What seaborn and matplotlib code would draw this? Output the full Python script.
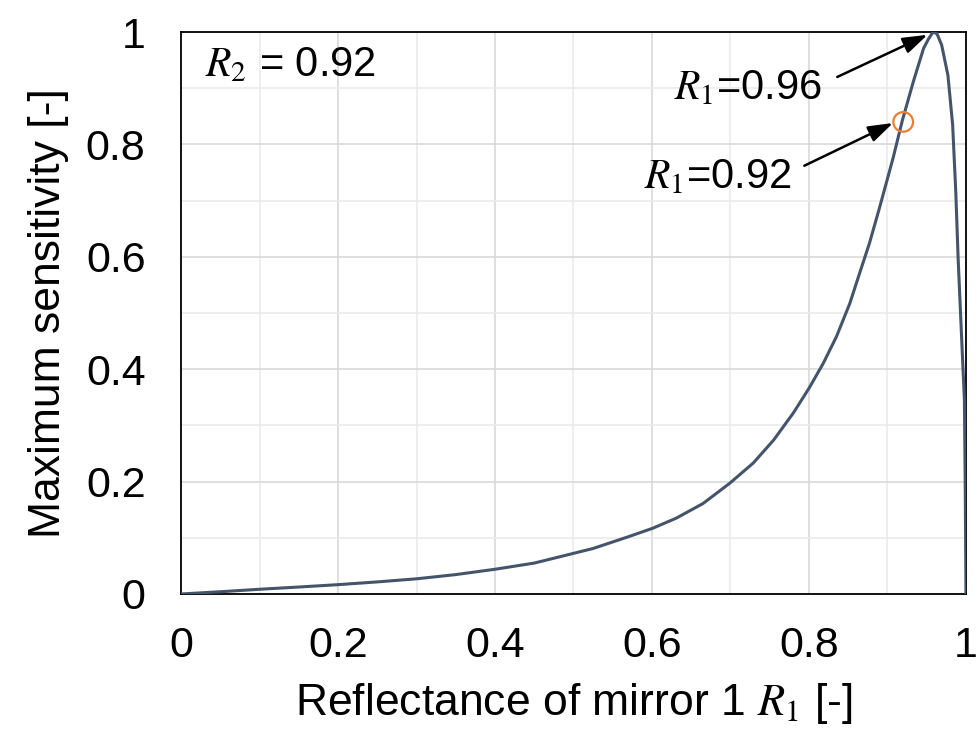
import numpy as np
import pandas as pd
import matplotlib
matplotlib.use("Agg")
import matplotlib.pyplot as plt
import seaborn as sns
from matplotlib.ticker import MultipleLocator

# ---- data ----
r1 = [0.0, 0.05, 0.1, 0.15, 0.2, 0.25, 0.3, 0.35, 0.4, 0.45, 0.483, 0.525,
      0.568, 0.601, 0.631, 0.665, 0.699, 0.729, 0.755, 0.780, 0.800, 0.818,
      0.835, 0.852, 0.865, 0.877, 0.890, 0.907, 0.919, 0.933, 0.946, 0.952,
      0.958, 0.963, 0.969, 0.977, 0.983, 0.987, 0.990, 0.994, 0.998, 0.999,
      1.0]
sensitivity = [0.0, 0.004, 0.0084, 0.0124, 0.0166, 0.0215, 0.027, 0.0345,
               0.044, 0.055, 0.0664, 0.081, 0.101, 0.117, 0.135, 0.161, 0.197,
               0.233, 0.274, 0.322, 0.366, 0.410, 0.458, 0.517, 0.573, 0.624,
               0.688, 0.775, 0.843, 0.912, 0.971, 0.987, 1.0, 0.997, 0.977,
               0.923, 0.835, 0.716, 0.597, 0.470, 0.345, 0.20, 0.0]
marker_r1 = [0.92]
marker_sens = [0.84]
ticks = [0, 0.2, 0.4, 0.6, 0.8, 1.0]
tick_labels = ["0", "0.2", "0.4", "0.6", "0.8", "1"]
r2_label = r"$R_2$ = 0.92"
peak_label = r"$R_1$=0.96"
point_label = r"$R_1$=0.92"

sns.set_theme(style="white")
plt.rcParams['font.family'] = ['Liberation Sans', 'DejaVu Sans']
plt.rcParams['mathtext.fontset'] = 'stix'

fig = plt.figure(figsize=(9.79, 7.29), dpi=100)
ax = fig.add_axes([0.1849, 0.1852, 0.8018, 0.7709])

df = pd.DataFrame({"R1": r1, "S": sensitivity})
sns.lineplot(data=df, x="R1", y="S", ax=ax, color="#44546A", linewidth=2.2,
             estimator=None, sort=False, zorder=3)

sns.scatterplot(x=marker_r1, y=marker_sens, ax=ax, s=200, marker="o",
                linewidth=1.6, zorder=4)
coll = ax.collections[-1]
coll.set_facecolor("none")
coll.set_edgecolor("#ED7D31")

ax.set_xlim(0, 1)
ax.set_ylim(0, 1)
ax.set_xticks(ticks)
ax.set_xticklabels(tick_labels)
ax.set_yticks(ticks)
ax.set_yticklabels(tick_labels)
ax.xaxis.set_minor_locator(MultipleLocator(0.1))
ax.yaxis.set_minor_locator(MultipleLocator(0.1))

ax.set_axisbelow(True)
ax.grid(which="major", color="#d9d9d9", linewidth=1.2)
ax.grid(which="minor", color="#ebebeb", linewidth=1.2)

for sp in ax.spines.values():
    sp.set_visible(True)
    sp.set_color("black")
    sp.set_linewidth(1.3)

ax.tick_params(which="major", direction="in", length=9.5, width=1.2,
               color="black", labelsize=31, labelcolor="black")
ax.tick_params(axis="x", which="major", pad=23)
ax.tick_params(axis="y", which="major", pad=25.5)
ax.tick_params(which="minor", direction="in", length=6.5, width=1.2,
               color="black")

ax.set_xlabel(r"Reflectance of mirror 1 $R_1$ [-]", fontsize=32, labelpad=11,
              color="black")
ax.set_ylabel("Maximum sensitivity [-]", fontsize=32, labelpad=12,
              color="black")

ax.text(0.031, 0.941, r2_label, fontsize=30, va="center", ha="left",
        color="black")

ax.text(0.817, 0.90, peak_label, fontsize=30, va="center", ha="right",
        color="black")
ax.text(0.778, 0.742, point_label, fontsize=30, va="center", ha="right",
        color="black")

arrow_kw = dict(arrowstyle="-|>,head_length=0.75,head_width=0.25",
                color="black", lw=1.8, mutation_scale=20,
                shrinkA=0, shrinkB=0)
ax.annotate("", xy=(0.951, 0.995), xytext=(0.836, 0.92),
            arrowprops=arrow_kw)
ax.annotate("", xy=(0.907, 0.838), xytext=(0.794, 0.762),
            arrowprops=arrow_kw)

fig.savefig("out.png", dpi=100)
